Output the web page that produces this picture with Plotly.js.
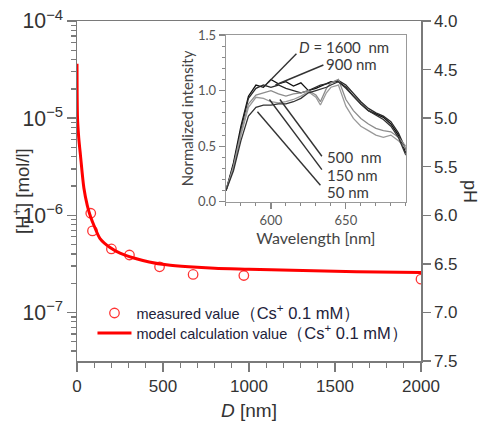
<!DOCTYPE html>
<html>
<head>
<meta charset="utf-8">
<script src="https://cdn.plot.ly/plotly-3.0.1.min.js"></script>
<style>html,body{margin:0;padding:0;background:#fff;}#chart{width:485px;height:422px;}</style>
</head>
<body>
<div id="chart"></div>
<script>
// ---- main plot data ----
const measuredD = [80, 90, 200, 305, 480, 675, 970, 2000];
const measuredH = [1.05e-6, 6.9e-7, 4.5e-7, 3.9e-7, 2.95e-7, 2.46e-7, 2.4e-7, 2.2e-7];
const modelD = [0, 3, 10, 20, 40, 60, 80, 100, 134, 190, 250, 330, 420, 520, 650, 800, 1000, 1250, 1500, 1750, 2000];
const modelH = [3.63e-5, 1.0e-5, 6.31e-6, 4.17e-6, 1.91e-6, 1.26e-6, 9.55e-7, 7.76e-7, 5.75e-7, 4.68e-7, 4.07e-7,
                3.63e-7, 3.31e-7, 3.09e-7, 2.95e-7, 2.85e-7, 2.79e-7, 2.72e-7, 2.66e-7, 2.60e-7, 2.57e-7];
const legendNames = ['measured value<span style="font-size:16.5px">（Cs<sup>+</sup> 0.1 mM）</span>',
                     'model calculation value<span style="font-size:16.5px">（Cs<sup>+</sup> 0.1 mM）</span>'];
const phTicks = [4.0, 4.5, 5.0, 5.5, 6.0, 6.5, 7.0, 7.5];

// ---- inset data ----
const wavelength = [570, 575, 580, 585, 590, 595, 600, 605, 610, 615, 620, 625, 630, 633, 637, 640, 645, 650, 655, 660, 665, 670, 675, 680, 685, 690];
const spec1600 = [0.10, 0.35, 0.68, 0.95, 1.05, 1.03, 1.10, 1.06, 1.08, 1.04, 1.07, 1.00, 1.02, 1.04, 1.06, 1.08, 1.08, 1.03, 0.95, 0.88, 0.82, 0.79, 0.76, 0.70, 0.60, 0.44];
const spec900  = [0.10, 0.33, 0.65, 0.93, 1.02, 1.05, 1.03, 1.05, 1.02, 1.00, 0.98, 1.00, 1.03, 1.05, 1.06, 1.07, 1.09, 1.05, 0.97, 0.90, 0.84, 0.80, 0.77, 0.72, 0.62, 0.47];
const spec500  = [0.10, 0.32, 0.62, 0.88, 0.96, 0.98, 1.00, 0.97, 0.95, 0.97, 0.98, 1.00, 0.96, 0.90, 1.02, 1.07, 1.10, 0.92, 0.82, 0.75, 0.70, 0.66, 0.64, 0.63, 0.58, 0.50];
const spec150  = [0.10, 0.30, 0.60, 0.85, 0.94, 0.93, 0.90, 0.89, 0.90, 0.92, 0.95, 0.99, 0.94, 0.87, 0.98, 1.03, 1.05, 0.86, 0.75, 0.68, 0.64, 0.60, 0.58, 0.60, 0.55, 0.48];
const spec50   = [0.10, 0.28, 0.55, 0.77, 0.85, 0.87, 0.87, 0.88, 0.88, 0.90, 0.93, 0.98, 1.00, 1.01, 1.03, 1.05, 1.08, 1.02, 0.95, 0.88, 0.82, 0.78, 0.74, 0.68, 0.58, 0.42];
const specLabels = ['<i>D</i> = 1600  nm', '900 nm', '500  nm', '150 nm', '50 nm'];

const MAINFONT = '"Liberation Sans", Arial, sans-serif';
const INSETFONT = 'Lato, "Liberation Sans", sans-serif';
const AX = '#7a7a7a';

const traces = [
  {x: measuredD, y: measuredH, mode: 'markers', name: legendNames[0], legend: 'legend',
   marker: {symbol: 'circle-open', size: 9.5, color: '#ff3535', line: {width: 1.3}}, xaxis: 'x', yaxis: 'y'},
  {x: modelD, y: modelH, mode: 'lines', name: legendNames[1], legend: 'legend2',
   line: {color: '#ff0000', width: 3, shape: 'spline', smoothing: 0.8}, xaxis: 'x', yaxis: 'y', hoverinfo: 'skip'},
  {x: [0], y: [phTicks[7]], mode: 'markers', marker: {opacity: 0}, showlegend: false, hoverinfo: 'skip', xaxis: 'x', yaxis: 'y3'}
];
const specs = [spec1600, spec900, spec500, spec150, spec50];
const specColors = ['#111111', '#2a2a2a', '#8c8c8c', '#9a9a9a', '#333333'];
specs.forEach((s, i) => traces.push({x: wavelength, y: s, mode: 'lines', line: {color: specColors[i], width: 1.3},
  xaxis: 'x2', yaxis: 'y2', showlegend: false, hoverinfo: 'skip'}));

// label positions and leader lines in inset data coordinates
const labelPos = [[618, 1.39], [636, 1.24], [637, 0.40], [637, 0.24], [637, 0.085]];
const leaders = [[598, 1.07, 617, 1.33], [603, 1.05, 635, 1.23], [606, 0.92, 634, 0.41], [599, 0.92, 634, 0.29], [591, 0.81, 633, 0.15]];

const annotations = specLabels.map((t, i) => ({x: labelPos[i][0], y: labelPos[i][1], xref: 'x2', yref: 'y2', text: t,
  showarrow: false, xanchor: 'left', yanchor: 'middle', borderpad: 0,
  font: {family: INSETFONT, size: 15, color: '#3a3a3a'}}));
annotations.push({x: 1, xref: 'paper', xanchor: 'center', xshift: 49, y: 0.5, yref: 'paper', yanchor: 'middle',
  text: 'pH', textangle: 90, showarrow: false, font: {family: MAINFONT, size: 18, color: '#333'}});
annotations.push({x: 0, xref: 'paper', xanchor: 'center', xshift: -56, y: 0.5, yref: 'paper', yanchor: 'middle',
  text: '[H<sup>+</sup>] [mol/l]', textangle: -90, showarrow: false, font: {family: MAINFONT, size: 18.5, color: '#333'}});
annotations.push({x: 0.5, xref: 'paper', xanchor: 'center', y: -0.147, yref: 'paper', yanchor: 'middle',
  text: '<i>D</i> [nm]', showarrow: false, font: {family: MAINFONT, size: 19, color: '#333'}});

const shapes = leaders.map(l => ({type: 'line', xref: 'x2', yref: 'y2', x0: l[0], y0: l[1], x1: l[2], y1: l[3],
  line: {color: '#333', width: 1.4}}));

const legendCommon = {xanchor: 'left', yanchor: 'middle', bgcolor: 'rgba(0,0,0,0)', itemwidth: 34,
  font: {family: MAINFONT, size: 14.5, color: '#22223a'}};

const layout = {
  width: 485, height: 422,
  margin: {l: 77, r: 64, t: 21, b: 61},
  paper_bgcolor: '#fff', plot_bgcolor: '#fff',
  showlegend: true,
  legend: Object.assign({x: 0.045, y: 0.141}, legendCommon),
  legend2: Object.assign({x: 0.045, y: 0.082}, legendCommon),
  xaxis: {domain: [0, 1], range: [0, 2000], dtick: 500, tick0: 0, ticks: 'outside', ticklen: 9, tickwidth: 1.5, tickcolor: AX,
    linecolor: AX, linewidth: 1.5, mirror: true, showgrid: false, zeroline: false,
    tickfont: {family: MAINFONT, size: 17, color: '#333'},
    minor: {dtick: 100, ticks: 'outside', ticklen: 5, tickwidth: 1.3, tickcolor: AX}},
  yaxis: {type: 'log', range: [-7.5, -4], dtick: 1, exponentformat: 'power', ticks: 'outside', ticklen: 9, tickwidth: 1.5,
    tickcolor: AX, linecolor: AX, linewidth: 1.5, mirror: true, showgrid: false, zeroline: false,
    tickfont: {family: MAINFONT, size: 17, color: '#333'},
    minor: {dtick: 'D1', ticks: 'outside', ticklen: 5, tickwidth: 1.3, tickcolor: AX}},
  yaxis3: {overlaying: 'y', side: 'right', anchor: 'x', range: [7.5, 4], tickvals: phTicks, tickformat: '.1f',
    ticks: 'outside', ticklen: 8, tickwidth: 1.5, tickcolor: AX, linecolor: AX, linewidth: 1.5, showline: true,
    showgrid: false, zeroline: false, tickfont: {family: MAINFONT, size: 17, color: '#333'}},
  xaxis2: {domain: [0.433, 0.956], anchor: 'y2', range: [570, 690], tickvals: [600, 650], ticks: 'outside', ticklen: 6,
    tickwidth: 1.2, tickcolor: '#888', linecolor: '#999', linewidth: 1.3, mirror: true, showgrid: false, zeroline: false,
    tickfont: {family: INSETFONT, size: 13, color: '#555'},
    minor: {dtick: 10, tick0: 570, ticks: 'outside', ticklen: 3, tickwidth: 1, tickcolor: '#888'},
    title: {text: 'Wavelength [nm]', font: {family: INSETFONT, size: 16, color: '#444'}, standoff: 1}},
  yaxis2: {domain: [0.468, 0.959], anchor: 'x2', range: [0, 1.5], dtick: 0.5, tickformat: '.1f', ticks: 'outside', ticklen: 6,
    tickwidth: 1.2, tickcolor: '#888', linecolor: '#999', linewidth: 1.3, mirror: true, showgrid: false, zeroline: false,
    tickfont: {family: INSETFONT, size: 13, color: '#555'},
    minor: {dtick: 0.1, ticks: 'outside', ticklen: 3, tickwidth: 1, tickcolor: '#888'},
    title: {text: 'Normalized intensity', font: {family: INSETFONT, size: 15, color: '#444'}, standoff: 0}},
  annotations: annotations,
  shapes: shapes
};

Plotly.newPlot('chart', traces, layout, {staticPlot: true, displayModeBar: false});
</script>
</body>
</html>
